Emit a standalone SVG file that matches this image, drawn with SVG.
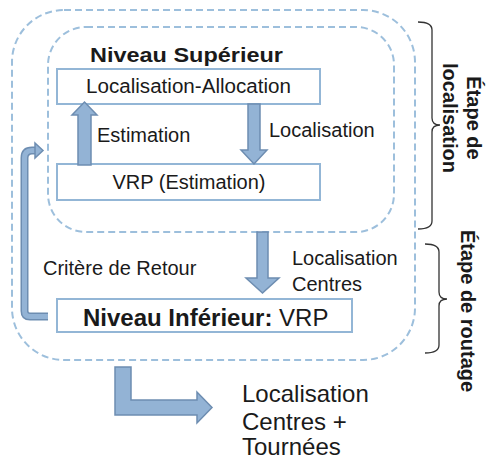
<svg xmlns="http://www.w3.org/2000/svg" width="487" height="463" viewBox="0 0 487 463">
<style>
text{font-family:"Liberation Sans",Arial,sans-serif;fill:#1a1a1a;}
.r{font-size:20px;}
.b{font-size:20px;font-weight:bold;}
.dash{fill:none;stroke:#9dbfdc;stroke-width:2;stroke-dasharray:7 4;}
.box{fill:#fff;stroke:#93b6d6;stroke-width:2;}
.arr{fill:#93b3d5;stroke:#6d8db1;stroke-width:1.5;stroke-linejoin:miter;}
.brace{fill:none;stroke:#333;stroke-width:1.3;}
</style>
<g id="container-outer"><rect class="dash" x="12" y="10" width="403" height="350" rx="52" ry="52"/></g>
<g id="container-inner"><rect class="dash" x="48" y="27" width="346" height="205" rx="38" ry="38"/></g>
<g id="title-superieur"><text class="b" x="90" y="62" font-size="22" textLength="193" lengthAdjust="spacingAndGlyphs">Niveau Supérieur</text></g>
<g id="node-localisation-allocation"><rect class="box" x="57" y="69" width="263" height="35"/><text class="r" x="188.5" y="93" text-anchor="middle" textLength="205" lengthAdjust="spacingAndGlyphs">Localisation-Allocation</text></g>
<g id="node-vrp-estimation"><rect class="box" x="57" y="164" width="263" height="36"/><text class="r" x="189" y="189" text-anchor="middle">VRP (Estimation)</text></g>
<g id="node-niveau-inferieur"><rect class="box" x="57" y="299" width="295" height="33"/><text x="83" y="326" style="font-size:24px"><tspan font-weight="bold">Niveau Inférieur:</tspan> VRP</text></g>
<g id="connectors">
<polygon class="arr" points="78,165 78,115 72,115 84.5,102 97,115 91,115 91,165"/>
<polygon class="arr" points="248,104 260,104 260,150 267,150 254,164 241,150 248,150"/>
<polygon class="arr" points="257,232 268,232 268,278 279,278 262.5,293 246,278 257,278"/>
<polygon class="arr" points="115,367 131,367 131,400 197,400 197,392 212,407.5 197,423 197,415 115,415"/>
<path d="M48,316.5 L30,316.5 Q24.5,316.5 24.5,311 L24.5,158 Q24.5,150.5 32,150.5 L37,150.5" fill="none" stroke="#6d8db1" stroke-width="8"/>
<path d="M48,316.5 L30,316.5 Q24.5,316.5 24.5,311 L24.5,158 Q24.5,150.5 32,150.5 L37,150.5" fill="none" stroke="#93b3d5" stroke-width="5"/>
<polygon class="arr" points="35,143 43,150.5 35,158"/>
</g>
<g id="label-estimation"><text class="r" x="97" y="142">Estimation</text></g>
<g id="label-localisation"><text class="r" x="269" y="137">Localisation</text></g>
<g id="label-critere"><text class="r" x="43" y="275">Critère de Retour</text></g>
<g id="label-localisation-centres"><text class="r" x="292" y="265">Localisation</text><text class="r" x="292" y="291">Centres</text></g>
<g id="output"><text x="242" y="402" style="font-size:24px">Localisation</text><text x="242" y="430" style="font-size:24px">Centres +</text><text x="242" y="455" style="font-size:24px">Tournées</text></g>
<g id="brace-localisation">
<path class="brace" d="M418,22 Q432,22 432,30 L432,118 Q432,125 440,125 Q432,125 432,132 L432,221 Q432,229 418,229"/>
<text class="b" transform="translate(467,118) rotate(90)" text-anchor="middle">Étape de</text>
<text class="b" transform="translate(443,118) rotate(90)" text-anchor="middle">localisation</text>
</g>
<g id="brace-routage">
<path class="brace" d="M425,244 Q439,244 439,252 L439,292 Q439,299 447,299 Q439,299 439,306 L439,345 Q439,353 425,353"/>
<text class="b" transform="translate(461,311) rotate(90)" text-anchor="middle">Étape de routage</text>
</g>
</svg>
